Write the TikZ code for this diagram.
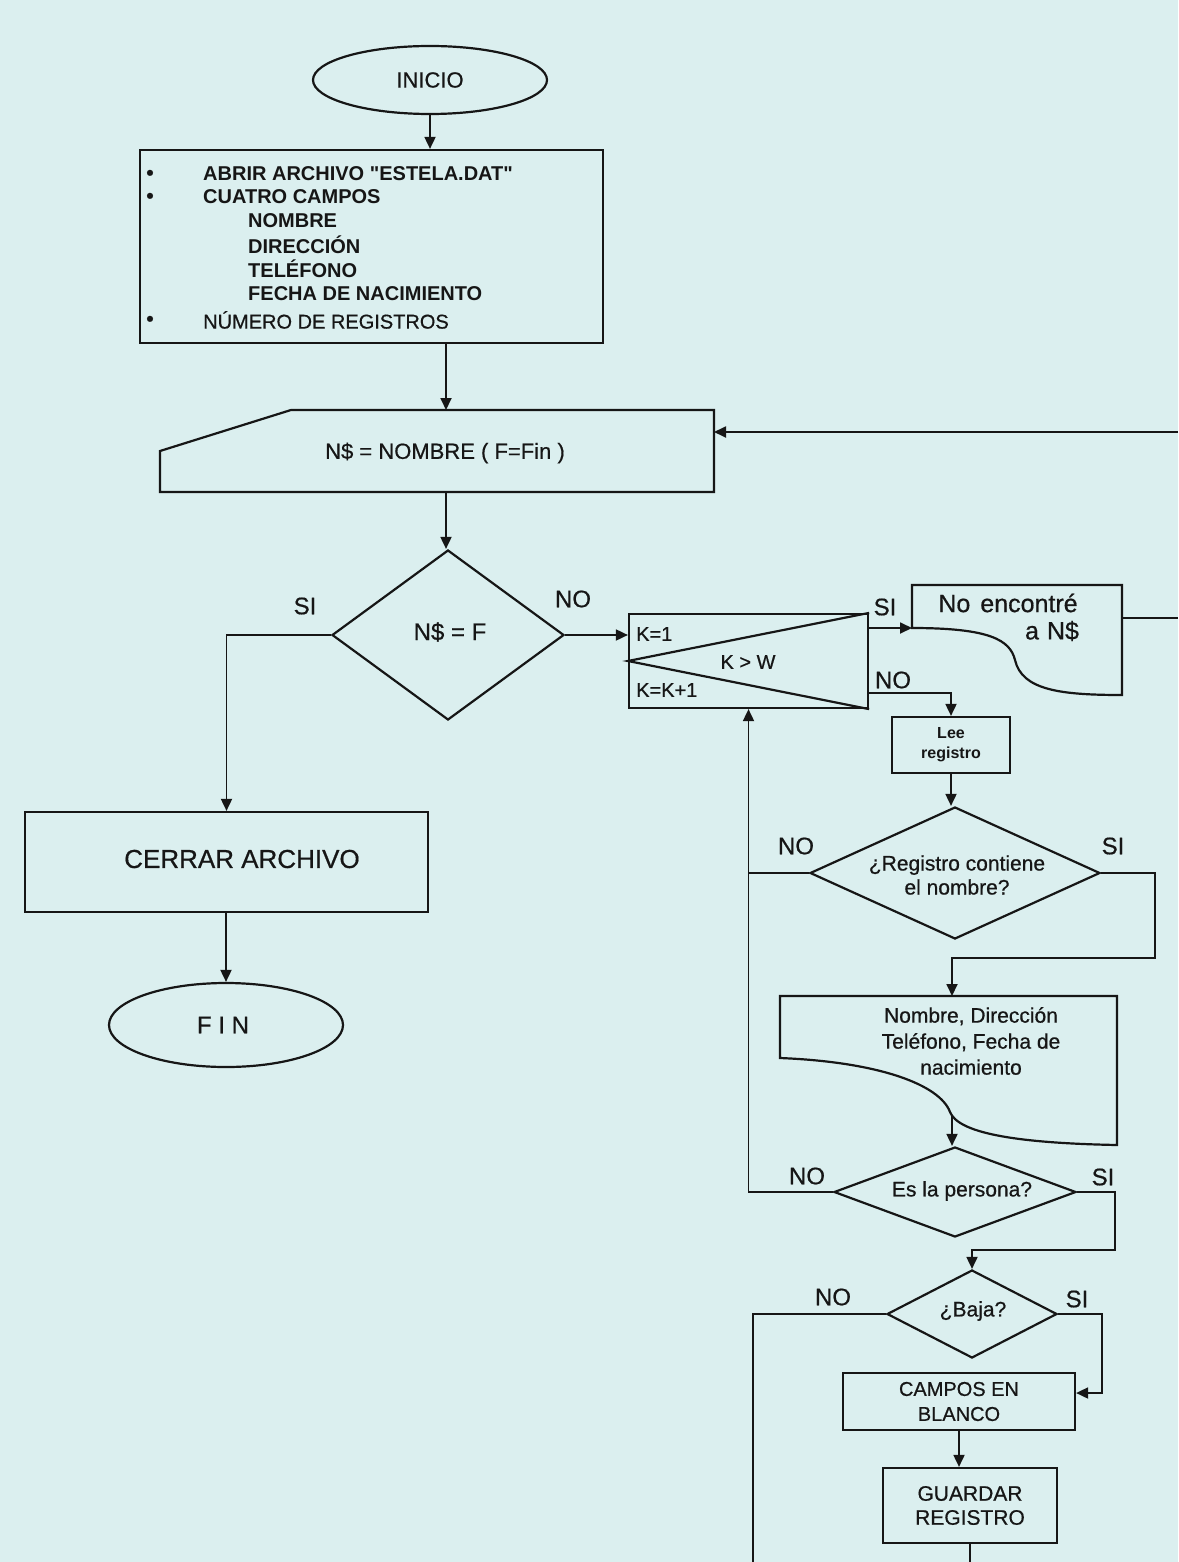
\documentclass[tikz,border=0pt]{standalone}
\usepackage{fontspec}
\setmainfont{Liberation Sans}[UprightFeatures={FakeBold=0.6}]
\newfontfamily\plainfam{Liberation Sans}
\usetikzlibrary{shapes.geometric,arrows.meta,calc}
\definecolor{paper}{RGB}{219,239,239}
\definecolor{ink}{RGB}{22,22,22}
\begin{document}
\begin{tikzpicture}[x=1pt,y=-1pt,
  shp/.style={draw=ink,line width=2.2pt},
  con/.style={draw=ink,line width=1.8pt},
  arr/.style={con,-{Triangle[length=12pt,width=11pt]}},
  txt/.style={text=ink,inner sep=0pt,align=center},
  f16b/.style={font=\bfseries\fontsize{16}{20}\selectfont},
  f20/.style={font=\fontsize{20}{24}\selectfont},
  f20b/.style={font=\bfseries\fontsize{20}{24}\selectfont},
  f21/.style={font=\fontsize{21}{24}\selectfont},
  f21s/.style={font=\fontsize{21}{26}\selectfont},
  f22/.style={font=\fontsize{22}{26}\selectfont},
  f24/.style={font=\fontsize{24}{28}\selectfont},
  f25/.style={font=\fontsize{25}{29}\selectfont},
  f26/.style={font=\fontsize{26}{30}\selectfont},
  bul/.style={txt,font=\fontsize{22}{24}\selectfont},
  lw/.style={txt,anchor=west}
]
\fill[paper] (0,0) rectangle (1178,1562);
\useasboundingbox (0,0) rectangle (1178,1562);

% INICIO
\node[shp,ellipse,minimum width=234pt,minimum height=68pt,txt,f22] (ini) at (430,80) {INICIO};

% Box 1
\node[shp,rectangle,minimum width=463pt,minimum height=193pt,inner sep=0pt] (b1) at (371.5,246.5) {};
\node[bul] (bu1) at (150,175) {\textbullet};
\node[bul] (bu2) at (150,198) {\textbullet};
\node[bul] (bu3) at (150,321) {\textbullet};
\node[lw,font=\plainfam\bfseries\fontsize{20}{24}\selectfont] (t1) at (203,174) {ABRIR ARCHIVO "ESTELA.DAT"};
\node[lw,f20b] (t2) at (203,197) {CUATRO CAMPOS};
\node[lw,f20b] (t3) at (248,221) {NOMBRE};
\node[lw,f20b] (t4) at (248,245) {DIRECCIÓN};
\node[lw,f20b] (t5) at (248,269) {TELÉFONO};
\node[lw,f20b] (t6) at (248,294) {FECHA DE NACIMIENTO};
\node[lw,f20] (t7) at (203,320) {NÚMERO DE REGISTROS};
\draw[arr] (ini.south) -- (ini.south |- b1.north);

% N$ manual input
\draw[shp] (160,492) -- (160,451) -- (291,410) -- (714,410) -- (714,492) -- cycle;
\node[txt,f22] (nin) at (445,453) {N\$ = NOMBRE ( F=Fin )};
\coordinate (ninT) at (446,410);
\coordinate (ninB) at (446,492);
\coordinate (ninR) at (714,432);
\coordinate (e1) at (1178,432);
\draw[arr] (b1.south -| ninT) -- (ninT);
\draw[arr] (e1) -- (ninR);

% Decision N$ = F
\node[shp,diamond,minimum width=232pt,minimum height=170pt,inner sep=0pt] (d1) at (448,635) {};
\node[txt,f24] (d1t) at (450,632) {N\$ = F};
\draw[arr] (ninB) -- (ninB |- d1.north);
\node[txt,f24] (si1) at (305,606) {SI};
\node[txt,f24] (no1) at (573,599) {NO};

% CERRAR / FIN
\node[shp,minimum width=403pt,minimum height=100pt,inner sep=0pt] (cer) at (226.5,862) {};
\node[txt,f26] (cert) at (242,859) {CERRAR ARCHIVO};
\node[shp,ellipse,minimum width=234pt,minimum height=84pt,inner sep=0pt] (fin) at (226,1025) {};
\node[txt,f24] (fint) at (223,1025) {F I N};
\draw[arr] (d1.west) -| (cer.north);
\draw[arr] (cer.south -| fin.north) -- (fin.north);

% Loop box
\node[shp,minimum width=239pt,minimum height=94pt,inner sep=0pt] (kb) at (748.5,661) {};
\draw[shp] (kb.north east) -- (kb.west) -- (kb.south east);
\node[lw,f20] (k1) at (636,634) {K=1};
\node[txt,f20] (kw) at (748,662) {K > W};
\node[lw,f20] (k2) at (636,690) {K=K+1};
\draw[arr] (d1.east) -- (d1.east -| kb.west);

% No encontre document
\draw[shp] (912,628) -- (912,585) -- (1122,585) -- (1122,695)
  .. controls (1060,695) and (1022,690) .. (1015,660)
  .. controls (1010,640) and (990,628) .. cycle;
\coordinate (ncL) at (912,628);
\coordinate (ncR) at (1122,618);
\coordinate (e2) at (1178,618);
\node[txt,f25] (nct1) at (1008,603) {No\hspace{10pt}encontré};
\node[txt,f25] (nct2) at (1052,631) {a\hspace{8pt}N\$};
\node[txt,f24] (si2) at (885,607) {SI};
\draw[arr] (kb.east |- ncL) -- (ncL);
\draw[con] (ncR) -- (e2);

% Lee registro
\node[txt,f24] (no2) at (893,680) {NO};
\node[shp,minimum width=118pt,minimum height=56pt,txt,f16b] (lee) at (951,745) {Lee\\registro};
\coordinate (nl) at (951,693);
\draw[arr] (kb.east |- nl) -- (nl) -- (lee.north);

% Decision registro contiene
\node[shp,diamond,minimum width=290pt,minimum height=132pt,inner sep=0pt] (d2) at (955,873) {};
\node[txt,f21] (d2t) at (957,875) {¿Registro contiene\\el nombre?};
\draw[arr] (lee.south) -- (lee.south |- d2.north);
\node[txt,f24] (no3) at (796,846) {NO};
\node[txt,f24] (si3) at (1113,846) {SI};
\draw[con] (d2.west) -- (d2.west -| kb.south);
\coordinate (j2) at (1155,958);
\coordinate (dcT) at (952,996);
\draw[arr] (d2.east) -| (j2) -| (dcT);

% Document datos
\draw[shp] (780,1058) -- (780,996) -- (1117,996) -- (1117,1145)
  .. controls (1010,1143) and (958,1132) .. (950,1112)
  .. controls (940,1085) and (880,1062) .. cycle;
\node[txt,f21s] (dct) at (971,1041) {Nombre, Dirección\\Teléfono, Fecha de\\nacimiento};
\coordinate (dcB) at (952,1116);

% Decision Es la persona
\node[shp,diamond,minimum width=242pt,minimum height=90pt,inner sep=0pt] (d3) at (955,1192) {};
\node[txt,f21] (d3t) at (962,1191) {Es la persona?};
\draw[arr] (dcB) -- (dcB |- d3.north);
\node[txt,f24] (no4) at (807,1176) {NO};
\node[txt,f24] (si4) at (1103,1177) {SI};
\draw[arr] (d3.west) -| (kb.south);
\coordinate (j3) at (1115,1250);

% Decision Baja
\node[shp,diamond,minimum width=170pt,minimum height=88pt,inner sep=0pt] (d4) at (972,1314) {};
\node[txt,f21] (d4t) at (973,1311) {¿Baja?};
\draw[arr] (d3.east) -| (j3) -| (d4.north);
\node[txt,f24] (no5) at (833,1297) {NO};
\node[txt,f24] (si5) at (1077,1299) {SI};
\coordinate (b4) at (753,1562);
\draw[con] (d4.west) -| (b4);

% Campos en blanco / Guardar
\node[shp,minimum width=232pt,minimum height=57pt,txt,font=\fontsize{20}{25}\selectfont] (cam) at (959,1401.5) {CAMPOS EN\\BLANCO};
\coordinate (j4) at (1102,1393);
\draw[arr] (d4.east) -| (j4) -- (j4 -| cam.east);
\node[shp,minimum width=174pt,minimum height=75pt,txt,font=\fontsize{21}{24}\selectfont] (gua) at (970,1505.5) {GUARDAR\\REGISTRO};
\draw[arr] (cam.south) -- (cam.south |- gua.north);
\coordinate (b5) at (970,1562);
\draw[con] (gua.south) -- (b5);
\end{tikzpicture}
\end{document}
